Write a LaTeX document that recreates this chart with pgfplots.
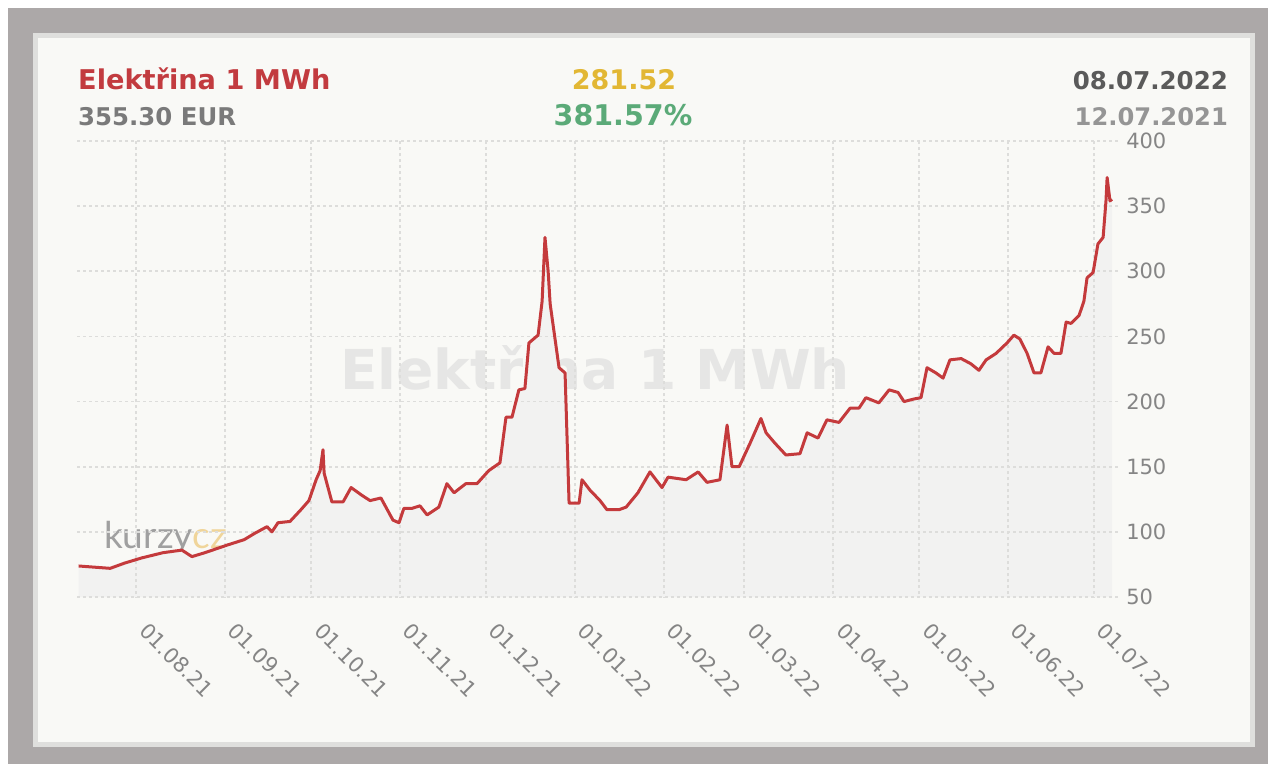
\documentclass[border=0pt]{standalone}
\usepackage{fontspec}
\setmainfont{DejaVu Sans}
\newfontfamily\lato{Lato}
\usepackage{pgfplots}
\pgfplotsset{compat=1.18}
\definecolor{framec}{HTML}{ACA8A8}
\definecolor{panelborder}{HTML}{DFDFDD}
\definecolor{panel}{HTML}{F9F9F6}
\definecolor{linered}{HTML}{C43A3C}
\definecolor{titlered}{HTML}{C23B3F}
\definecolor{goldc}{HTML}{E2B734}
\definecolor{greenpct}{HTML}{5BAA78}
\definecolor{gridc}{HTML}{DDDDDB}
\definecolor{fillc}{HTML}{F2F2F1}
\definecolor{wmc}{HTML}{E6E6E5}
\definecolor{tickc}{HTML}{858585}
\definecolor{darkg}{HTML}{5A5A5A}
\definecolor{midg}{HTML}{7A7A7A}
\definecolor{logogray}{HTML}{A0A0A0}
\definecolor{logoyel}{HTML}{F0D59A}
\pgfplotstableread{
d v
-20 73.8
-9 72
-4 76
2 80
9.4 84
16 86
19.5 81
24 84
32 90
37.7 94
41.5 99
45.7 104
47.4 100
49.5 107
53.7 108
57.5 117
60.3 124
62.8 140
64.2 147
65.2 163
65.6 145
68.3 123
72.2 123
75 134
78.8 128
81.6 124
85.4 126
89.6 109
91.7 107
93.4 118
96.2 118
99 120
101.5 113
105.6 119
108.4 137
110.9 130
115 137
118.9 137
123 147
126.9 153
129 188
131.1 188
133.5 209
135.6 210
137 245
140.2 251
141.6 277
142.6 326
143.7 300
144.4 275
147.5 226
149.6 222
151 122
154.5 122
155.5 140
158.3 132
161.8 124
164.2 117
168.4 117
170.9 119
175 130
179.2 146
183.4 134
185.5 142
191.8 140
196 146
199.1 138
203.6 140
206.1 182
207.8 150
210.3 150
214.1 168
217.9 187
219.7 176
222.8 168
226.6 159
231.5 160
234 176
237.8 172
240.9 186
245.1 184
249 195
252.1 195
254.5 203
259 199
262.6 209
265.7 207
267.8 200
271.3 202
273.7 203
275.8 226
278.9 222
281.4 218
283.8 232
287.7 233
291.1 229
293.9 224
296.4 232
299.9 237
303.7 245
306.1 251
308.2 248
310.7 237
313.1 222
315.5 222
318 242
320.1 237
322.5 237
324.3 261
326 260
328.8 266
330.5 277
331.6 295
333.7 299
335.4 321
337.2 326
338.2 354
338.6 372
339.6 354
340.3 355.3
}\elec
\begin{document}
\begin{tikzpicture}[x=1pt,y=1pt]
\fill[white] (0,0) rectangle (1268,764);
\fill[framec] (8,0) rectangle (1268,756);
\fill[panelborder] (33,17) rectangle (1255,731);
\fill[panel] (38,22) rectangle (1250,726);
% watermark
\node[anchor=base, inner sep=0, font=\bfseries\fontsize{55}{55}\selectfont, text=wmc] at (595,374) {Elektřina 1 MWh};
% logo
\node[anchor=base west, inner sep=0, font=\lato\fontsize{37}{37}\selectfont] at (104,216) {\textcolor{logogray}{kurzy}\textcolor{logoyel}{cz}};
% header
\node[anchor=base west, inner sep=0, font=\bfseries\fontsize{27.2}{27.2}\selectfont, text=titlered] at (78,674) {Elektřina 1 MWh};
\node[anchor=base west, inner sep=0, font=\bfseries\fontsize{24.4}{24.4}\selectfont, text=midg] at (78,638) {355.30 EUR};
\node[anchor=base, inner sep=0, font=\bfseries\fontsize{27}{27}\selectfont, text=goldc] at (624,674) {281.52};
\node[anchor=base, inner sep=0, font=\bfseries\fontsize{28.5}{28.5}\selectfont, text=greenpct] at (623,638) {381.57\%};
\node[anchor=base east, inner sep=0, font=\bfseries\fontsize{24.5}{24.5}\selectfont, text=darkg] at (1228,674) {08.07.2022};
\node[anchor=base east, inner sep=0, font=\bfseries\fontsize{24.2}{24.2}\selectfont, text=midg!80] at (1228,638) {12.07.2021};
\begin{axis}[
  at={(77.2pt,167pt)}, anchor=south west, scale only axis,
  width=1042.5pt, height=456pt,
  xmin=-20.5, xmax=343, ymin=50, ymax=400,
  axis line style={draw=none}, tick style={draw=none},
  /pgf/number format/assume math mode=true,
  xtick={0,31,61,92,122,153,184,212,243,273,304,334},
  xticklabels={01.08.21,01.09.21,01.10.21,01.11.21,01.12.21,01.01.22,01.02.22,01.03.22,01.04.22,01.05.22,01.06.22,01.07.22},
  ytick={50,100,...,400},
  yticklabel pos=right,
  ticklabel style={font=\fontsize{21}{21}\selectfont, text=tickc},
  xticklabel style={rotate=-45, anchor=north west, yshift=-4.5pt, xshift=23pt},
  yticklabel style={anchor=west, xshift=3pt},
]
\addplot[draw=none, fill=fillc] table[x=d,y=v] {\elec} \closedcycle;
\pgfplotsinvokeforeach{0,31,61,92,122,153,184,212,243,273,304,334}{
  \draw[gridc, line width=1.6pt, dash pattern=on 3pt off 3pt] (axis cs:#1,43) -- (axis cs:#1,400);
}
\pgfplotsinvokeforeach{50,100,150,200,250,300,350,400}{
  \draw[gridc, line width=1.6pt, dash pattern=on 3pt off 3pt] (axis cs:-20.5,#1) -- (axis cs:343,#1);
}
\addplot[linered, line width=3pt, line join=round] table[x=d,y=v] {\elec};
\end{axis}
\end{tikzpicture}
\end{document}
